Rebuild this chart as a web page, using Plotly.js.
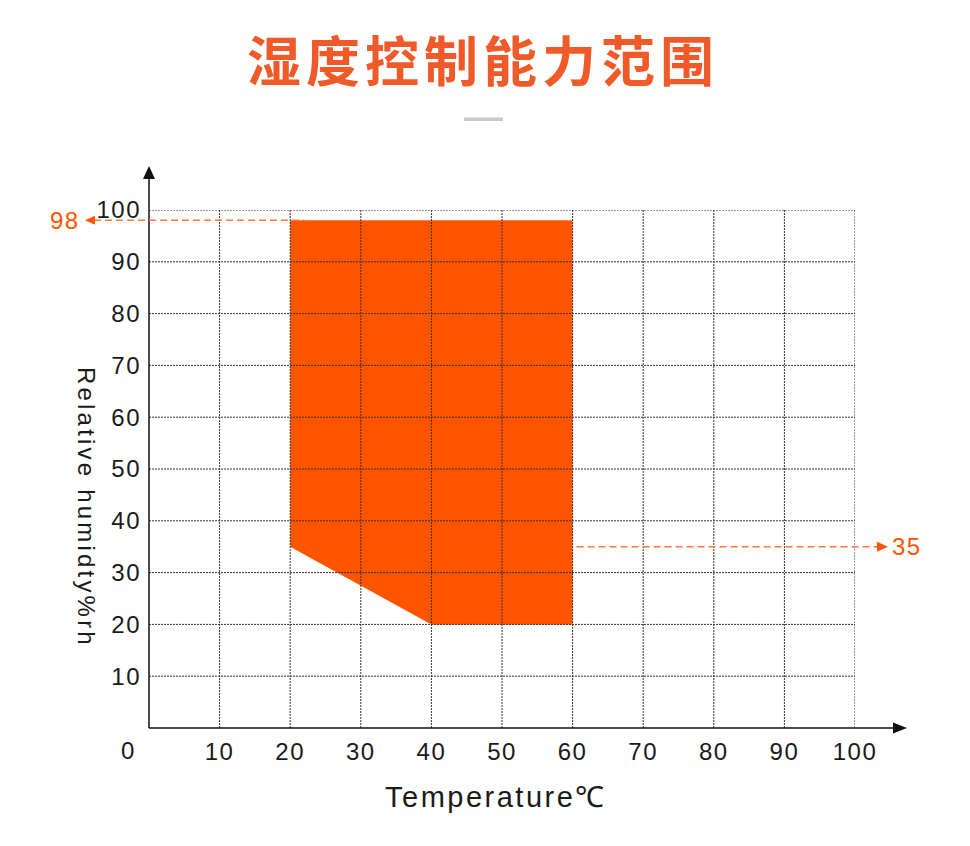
<!DOCTYPE html>
<html><head><meta charset="utf-8">
<script src="https://cdn.plot.ly/plotly-3.0.1.min.js"></script>
<style>html,body{margin:0;padding:0;background:#fff}</style>
</head><body><div id="chart" style="width:970px;height:846px"></div>
<script>
// ---- data ----
const titleText = '湿度控制能力范围';
const xTitleText = 'Temperature℃';
const yTitleText = 'Relative humidty%rh';
const xRange = [0, 100];
const yRange = [0, 100];
const xTickVals = [10, 20, 30, 40, 50, 60, 70, 80, 90, 100];
const yTickVals = [10, 20, 30, 40, 50, 60, 70, 80, 90, 100];
const originLabel = '0';
const regionTemp = [20, 20, 60, 60, 40, 20];
const regionHumidity = [35, 98, 98, 20, 20, 35];
const markHumidityHigh = 98;
const markHumidityLow = 35;
const markLabelHigh = '98';
const markLabelLow = '35';

// ---- layout geometry ----
const W = 970, H = 846;
const M = {l: 149, r: 115, t: 210, b: 118};
const PW = W - M.l - M.r, PH = H - M.t - M.b;
const pxX = p => (p - M.l) / PW;             // pixel -> paper x
const pxY = p => (H - M.b - p) / PH;         // pixel -> paper y
const dX = v => (v - xRange[0]) / (xRange[1] - xRange[0]); // data -> paper x
const pyData = px => px * (yRange[1] - yRange[0]) / PH;    // pixel length -> data y

const fam = 'Liberation Sans, Arial, sans-serif';
const tickFont = {family: fam, size: 24, color: '#1a1a1a'};
const orange = '#FF5500';
const dashOrange = '#FF7A3C';
const gridStyle = {color: '#333', width: 1, dash: '2px,1px'};
const sp = (t, s) => `<span style="letter-spacing:${s}px">${t}</span>`;

const shapes = [];
xTickVals.forEach(v => shapes.push({type: 'line', xref: 'x', yref: 'y', x0: v, x1: v, y0: yRange[0], y1: yRange[1], line: gridStyle, layer: 'above'}));
yTickVals.forEach(v => shapes.push({type: 'line', xref: 'x', yref: 'y', x0: xRange[0], x1: xRange[1], y0: v, y1: v, line: gridStyle, layer: 'above'}));

// axis lines with arrows
const axisCol = '#111';
shapes.push({type: 'line', xref: 'paper', yref: 'paper', x0: 0, x1: pxX(894), y0: 0, y1: 0, line: {color: axisCol, width: 1.5}, layer: 'above'});
shapes.push({type: 'line', xref: 'paper', yref: 'paper', x0: 0, x1: 0, y0: 0, y1: pxY(178), line: {color: axisCol, width: 1.5}, layer: 'above'});
{
  const tip = pxX(907), base = pxX(893), hw = 5.5 / PH;
  shapes.push({type: 'path', xref: 'paper', yref: 'paper', path: `M${tip},0 L${base},${hw} L${base},${-hw} Z`, fillcolor: axisCol, line: {width: 0}, layer: 'above'});
  const tipY = pxY(166), baseY = pxY(179), hwx = 6 / PW;
  shapes.push({type: 'path', xref: 'paper', yref: 'paper', path: `M0,${tipY} L${hwx},${baseY} L${-hwx},${baseY} Z`, fillcolor: axisCol, line: {width: 0}, layer: 'above'});
}
// marker lines
shapes.push({type: 'line', xref: 'paper', yref: 'y', x0: pxX(94), x1: dX(regionTemp[0] + 2), y0: markHumidityHigh, y1: markHumidityHigh, line: {color: dashOrange, width: 1.5, dash: '7px,4px'}, layer: 'above'});
{
  const tip = pxX(85), base = pxX(95), hh = pyData(4.5);
  shapes.push({type: 'path', xref: 'paper', yref: 'y', path: `M${tip},${markHumidityHigh} L${base},${markHumidityHigh + hh} L${base},${markHumidityHigh - hh} Z`, fillcolor: orange, line: {width: 0}, layer: 'above'});
}
shapes.push({type: 'line', xref: 'paper', yref: 'y', x0: dX(60) + 4 / PW, x1: pxX(878), y0: markHumidityLow, y1: markHumidityLow, line: {color: dashOrange, width: 1.5, dash: '7px,4px'}, layer: 'above'});
{
  const tip = pxX(888), base = pxX(877), hh = pyData(5);
  shapes.push({type: 'path', xref: 'paper', yref: 'y', path: `M${tip},${markHumidityLow} L${base},${markHumidityLow + hh} L${base},${markHumidityLow - hh} Z`, fillcolor: orange, line: {width: 0}, layer: 'above'});
}
// small gray bar under title
shapes.push({type: 'rect', xref: 'paper', yref: 'paper', x0: pxX(464), x1: pxX(503), y0: pxY(121), y1: pxY(117.5), fillcolor: '#c8c8c8', line: {width: 0}});

const annotations = [
  {xref: 'paper', yref: 'paper', x: pxX(127), y: pxY(750), text: originLabel, showarrow: false, font: tickFont, xanchor: 'center', yanchor: 'middle'},
  {xref: 'paper', yref: 'paper', x: pxX(496), y: pxY(797), text: sp(xTitleText, 2.5), showarrow: false, font: {family: fam, size: 29, color: '#1a1a1a'}, xanchor: 'center', yanchor: 'middle'},
  {xref: 'paper', yref: 'paper', x: pxX(87), y: pxY(507), text: sp(yTitleText, 3.2), textangle: 90, showarrow: false, font: {family: fam, size: 24, color: '#1a1a1a'}, xanchor: 'center', yanchor: 'middle'},
  {xref: 'paper', yref: 'y', x: pxX(82), y: markHumidityHigh, text: sp(markLabelHigh, 1.5), showarrow: false, font: {family: fam, size: 24, color: orange}, xanchor: 'right', yanchor: 'middle'},
  {xref: 'paper', yref: 'y', x: pxX(890), y: markHumidityLow, text: sp(markLabelLow, 1.5), showarrow: false, font: {family: fam, size: 24, color: orange}, xanchor: 'left', yanchor: 'middle'}
];

const traces = [{
  type: 'scatter', mode: 'lines', x: regionTemp, y: regionHumidity,
  fill: 'toself', fillcolor: orange, line: {width: 0, color: orange}, hoverinfo: 'skip', showlegend: false
}];

const layout = {
  width: W, height: H, margin: M,
  paper_bgcolor: '#fff', plot_bgcolor: '#fff', showlegend: false,
  title: {text: sp(titleText, 5), font: {family: 'Noto Sans CJK SC, sans-serif', size: 54, color: '#F05A28', weight: 'bold'}, xref: 'container', yref: 'container', x: 483 / W, y: 1 - 63 / H, xanchor: 'center', yanchor: 'middle'},
  xaxis: {range: xRange, tickvals: xTickVals, ticktext: xTickVals.map(v => sp(String(v), 1.5)), showgrid: false, zeroline: false, showline: false, ticks: '', tickfont: tickFont, ticklabelstandoff: 7, fixedrange: true},
  yaxis: {range: yRange, tickvals: yTickVals, ticktext: yTickVals.map(v => sp(String(v), 1.5)), showgrid: false, zeroline: false, showline: false, ticks: '', tickfont: tickFont, ticklabelstandoff: 7, fixedrange: true},
  shapes: shapes, annotations: annotations
};

Plotly.newPlot('chart', traces, layout, {staticPlot: true, displayModeBar: false});
</script>
</body></html>
